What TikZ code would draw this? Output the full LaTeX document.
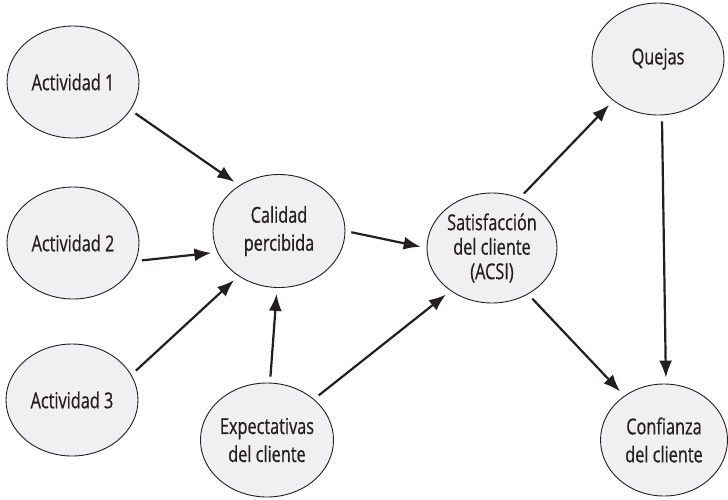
\documentclass[tikz,border=0pt]{standalone}
\usepackage{fontspec}
\setmainfont{Open Sans}[FakeStretch=0.74,FakeBold=0.6]
\usetikzlibrary{shapes.geometric,arrows.meta}
\definecolor{tinta}{RGB}{35,31,32}
\definecolor{relleno}{RGB}{240,240,242}
\tikzset{
	elipse/.style={ellipse,draw=tinta,line width=0.9pt,fill=relleno,text=tinta,inner sep=0pt,
		minimum width=132pt,minimum height=112pt,align=center},
	flecha/.style={->,line width=2.2pt,draw=tinta,shorten >=6pt,shorten <=6pt}
}
\begin{document}
\begin{tikzpicture}[>={Latex[length=17pt,width=13pt]},line join=round,x=1pt,y=-1pt,font=\fontsize{22}{28}\selectfont]
	\useasboundingbox (0,0) rectangle (728,499);
	\node[elipse] (act1) at (73,82) {Actividad 1};
	\node[elipse] (act2) at (73,243) {Actividad 2};
	\node[elipse] (act3) at (72,400) {Actividad 3};
	\node[elipse,minimum height=113pt] (cal) at (279,231) {Calidad\\percibida};
	\node[elipse,minimum width=131pt,minimum height=114pt] (exp) at (267,440) {Expectativas\\del cliente};
	\node[elipse,minimum width=130pt,minimum height=110pt,font=\fontsize{22}{24.5}\selectfont] (sat) at (492,248) {Satisfacción\\del cliente\\(ACSI)};
	\node[elipse] (que) at (658,59) {Quejas};
	\node[elipse,minimum width=127pt] (conf) at (664,440) {Confianza\\del cliente};
	\draw[flecha] (act1.-26)--(cal.131);
	\draw[flecha] (act2.-16)--(cal.-161);
	\draw[flecha] (act3.23)--(cal.228);
	\draw[flecha] (exp.87)--(cal.268);
	\draw[flecha] (cal.0)--(sat.180);
	\draw[flecha] (exp.41)--(sat.226);
	\draw[flecha] (sat.61)--(que.223);
	\draw[flecha] (sat.-52)--(conf.132);
	\draw[flecha] (que.-86)--(conf.88);
\end{tikzpicture}
\end{document}
